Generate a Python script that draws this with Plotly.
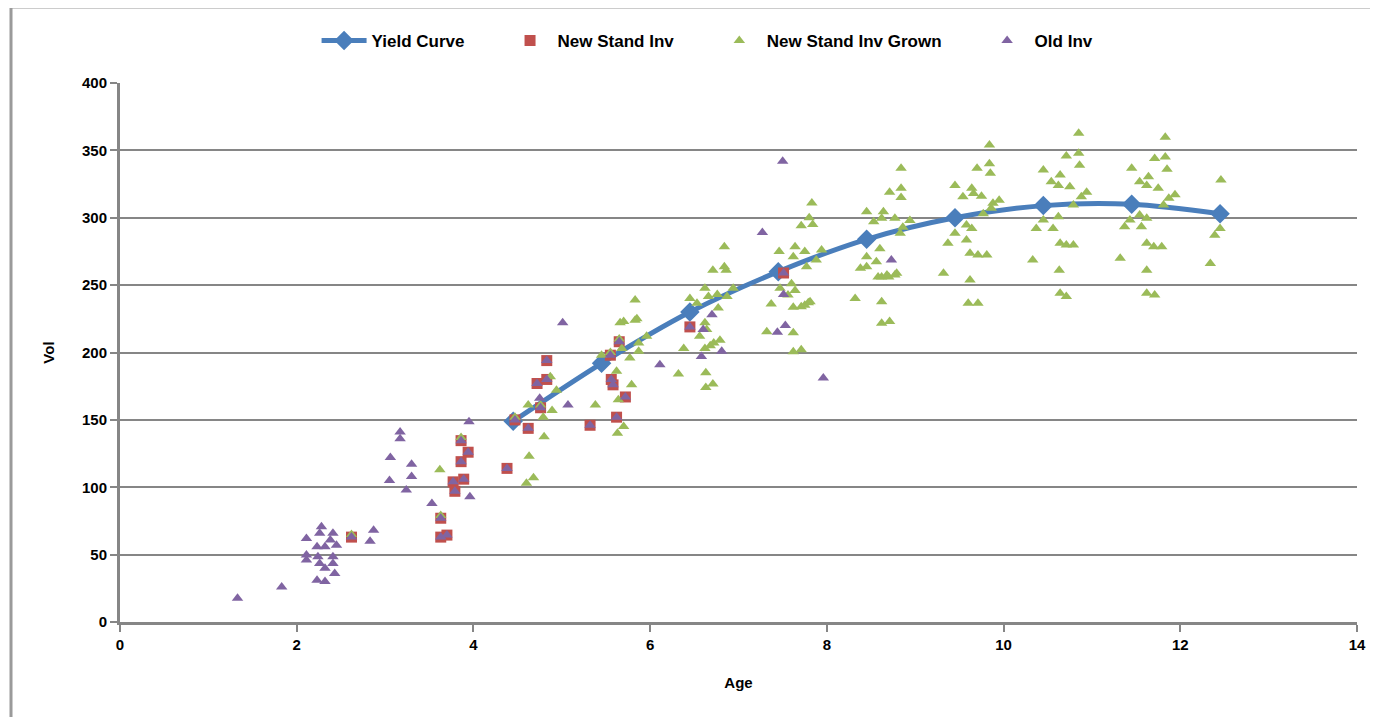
import plotly.graph_objects as go

# ---------------- data ----------------
yield_age = [4.45, 5.45, 6.45, 7.45, 8.45, 9.45, 10.45, 11.45, 12.45]
yield_vol = [149, 192, 230, 260, 284, 300, 309, 310, 303]

new_age = [2.62, 3.63, 3.63, 3.70, 3.77, 3.79, 3.89, 3.86, 3.94, 3.86, 4.38, 4.47, 4.62,
           4.72, 4.83, 4.76, 4.83, 5.32, 5.62, 5.72, 5.56, 5.58, 5.55, 5.65, 6.45, 7.51]
new_vol = [63, 77, 63, 64.5, 104, 97, 106, 119, 126, 134.6, 114, 150, 143.7,
           177, 180, 159, 194, 146, 152, 167, 180, 176, 198, 208, 219, 259]

grown_age = [3.62, 4.60, 4.68, 4.63, 4.80, 4.62, 4.87, 4.94, 4.89, 4.79, 5.38, 5.45, 5.62, 5.66,
             5.83, 5.77, 5.79, 5.70, 5.63, 5.64, 5.68, 5.87, 5.87, 5.96, 5.83, 5.85, 5.70,
             6.32, 6.38, 6.45, 6.53, 6.56, 6.62, 6.62, 6.62, 6.63, 6.63, 6.64, 6.66, 6.68,
             6.71, 6.72, 6.76, 6.77, 6.79, 6.84, 6.71, 6.84, 6.86, 6.87, 6.94,
             7.32, 7.37, 7.46, 7.47, 7.56, 7.60, 7.62, 7.62, 7.62, 7.62, 7.64, 7.64, 7.71,
             7.71, 7.71, 7.75, 7.77, 7.79, 7.84, 7.88, 7.94, 7.83, 7.80, 7.75, 7.81,
             8.32, 8.38, 8.45, 8.45, 8.53, 8.56, 8.60, 8.62, 8.62, 8.62, 8.62, 8.64, 8.70,
             8.71, 8.71, 8.77, 8.77, 8.83, 8.84, 8.84, 8.84, 8.86, 8.94, 8.45, 8.58, 8.68, 8.79,
             9.32, 9.37, 9.45, 9.45, 9.54, 9.58, 9.58, 9.60, 9.62, 9.62, 9.64, 9.64, 9.66,
             9.70, 9.71, 9.71, 9.75, 9.77, 9.81, 9.84, 9.84, 9.85, 9.86, 9.88, 9.95,
             10.33, 10.37, 10.45, 10.45, 10.54, 10.56, 10.62, 10.62, 10.63, 10.64, 10.64, 10.64,
             10.71, 10.71, 10.71, 10.75, 10.79, 10.79, 10.85, 10.85, 10.86, 10.88, 10.94,
             11.32, 11.37, 11.43, 11.45, 11.54, 11.54, 11.56, 11.62, 11.62, 11.62, 11.62, 11.62,
             11.64, 11.70, 11.71, 11.71, 11.75, 11.79, 11.81, 11.83, 11.83, 11.85, 11.87, 11.94,
             12.34, 12.39, 12.45, 12.46,
             2.62, 3.63, 3.86, 4.47, 4.76, 5.65, 5.55]
grown_vol = [113, 103, 107, 123, 137.5, 161, 182, 172, 157, 152, 161, 198, 186, 222,
             224, 196, 176, 145, 140, 165, 203, 207, 201, 212, 239, 225, 223,
             184, 203, 240, 236.5, 212, 247.6, 222, 203, 185, 174, 217, 241.5, 205,
             176.6, 207, 243, 233, 209, 278.5, 261, 263.7, 261, 241.5, 247.6,
             215.4, 236, 275, 247.6, 242.7, 251, 271, 233.5, 214.7, 200.6, 278.5, 246, 234,
             202, 294, 275, 263.7, 237, 295, 268.6, 276, 311, 300, 235, 237.7,
             240, 262.5, 271, 304.5, 297, 267.4, 277, 299.6, 256, 237.7, 221.7, 304.5, 256,
             223, 319, 299.6, 257.5, 288.5, 336.7, 321.8, 315, 293, 298, 263.7, 256, 257.5, 258.8,
             258.8, 281, 324, 288.5, 315.6, 294.6, 283.5, 236.5, 273.6, 253.8, 321.8, 292, 318,
             336.7, 272.4, 236.5, 316, 303, 272.4, 354, 340, 333, 307, 310.7, 313,
             268.6, 292, 335.4, 298.3, 326.8, 292, 324, 300.8, 261, 331.7, 281, 244,
             345.8, 279.8, 241.5, 323, 309.5, 279.8, 362.7, 347.8, 339, 315.6, 319,
             270, 293.4, 298.3, 336.7, 326.8, 302, 293.4, 324, 299.6, 281, 261, 244,
             330.5, 278.5, 344, 242.7, 321.8, 278.5, 309.5, 359.7, 345, 336, 314.4, 317,
             266, 287, 292, 328,
             65, 79, 137, 152, 161, 210, 200]

old_age = [1.33, 1.83, 2.28, 2.11, 2.26, 2.41, 2.38, 2.45, 2.23, 2.32, 2.11, 2.11, 2.24, 2.41,
           2.26, 2.41, 2.32, 2.43, 2.23, 2.32,
           2.83, 2.87, 3.05, 3.06, 3.17, 3.17, 3.30, 3.30, 3.24, 3.53, 3.95, 3.96,
           5.01, 5.07, 4.75, 6.11, 6.58, 6.60, 6.70, 6.81, 7.27, 7.44, 7.53, 7.51, 7.50, 7.96, 8.73,
           2.62, 3.63, 3.63, 3.70, 3.77, 3.79, 3.89, 3.86, 3.94, 3.86, 4.38, 4.47, 4.62,
           4.72, 4.83, 4.76, 4.83, 5.32, 5.62, 5.72, 5.56, 5.58, 5.55, 5.65, 6.45, 7.51]
old_vol = [17.6, 26, 70.7, 62, 65.8, 65.8, 60.9, 57, 55.9, 55.9, 49.7, 46, 48.5, 48.5,
           43.5, 43.5, 39.8, 36, 31, 30,
           60, 68, 105, 122, 141, 136, 117, 108, 98, 88, 148.6, 93,
           222, 161, 166, 191, 197, 217, 228, 201, 289, 215, 220, 243, 342, 181, 268.6,
           63, 77, 63, 64.5, 104, 97, 106, 119, 126, 134.6, 114, 150, 143.7,
           177, 180, 159, 194, 146, 152, 167, 180, 176, 198, 208, 219, 259]

x_ticks = [0, 2, 4, 6, 8, 10, 12, 14]
y_ticks = [0, 50, 100, 150, 200, 250, 300, 350, 400]

# ---------------- figure ----------------
FONT = "Liberation Sans Narrow, Liberation Sans, Arial, sans-serif"
GRID = "#868686"
PAD = "\u00a0" * 7  # extra spacing between legend entries

fig = go.Figure()
fig.add_trace(go.Scatter(
    x=yield_age, y=yield_vol, name="Yield Curve" + PAD, mode="lines+markers",
    line=dict(color="#4a7ebb", width=5, shape="spline", smoothing=0.9),
    marker=dict(symbol="diamond", size=15, color="#4a7ebb")))
fig.add_trace(go.Scatter(
    x=new_age, y=new_vol, name="New Stand Inv" + PAD, mode="markers",
    marker=dict(symbol="square", size=11, color="#c0504d")))
fig.add_trace(go.Scatter(
    x=grown_age, y=grown_vol, name="New Stand Inv Grown" + PAD, mode="markers",
    marker=dict(symbol="triangle-up", size=10, color="#9bbb59")))
fig.add_trace(go.Scatter(
    x=old_age, y=old_vol, name="Old Inv", mode="markers",
    marker=dict(symbol="triangle-up", size=10, color="#8064a2")))

# page body has an 8px margin, so plot margins compensate for it
fig.update_layout(
    width=1378, height=717,
    margin=dict(l=112, r=29, t=75, b=103),
    paper_bgcolor="white", plot_bgcolor="white",
    font=dict(family=FONT, size=14, color="#000000", weight="bold"),
    showlegend=True,
    legend=dict(orientation="h", x=0.475, xanchor="center", y=1 + (83 - 41) / 539, yanchor="middle",
                font=dict(family=FONT, size=17, weight="bold"), itemwidth=45,
                traceorder="normal"),
    xaxis=dict(range=[0, 14], tickvals=x_ticks, ticktext=[str(v) for v in x_ticks],
               showgrid=False, zeroline=False, showline=True, linecolor=GRID, linewidth=3,
               ticks="outside", ticklen=7, tickwidth=2, tickcolor=GRID,
               title=dict(text="Age", font=dict(size=15, weight="bold"), standoff=26),
               tickfont=dict(size=15, weight="bold")),
    yaxis=dict(range=[0, 400], tickvals=y_ticks, ticktext=[str(v) for v in y_ticks],
               showgrid=True, gridcolor=GRID, gridwidth=2, zeroline=False,
               showline=True, linecolor=GRID, linewidth=3,
               ticks="outside", ticklen=7, tickwidth=2, tickcolor=GRID,
               title=dict(text="Vol", font=dict(size=15, weight="bold"), standoff=24),
               tickfont=dict(size=15, weight="bold")),
)

# outer chart frame
fig.add_shape(type="rect", xref="paper", yref="paper",
              x0=(3 - 112) / 1237, x1=1.2, y0=-0.4, y1=1 + (75 - (-1)) / 539,
              line=dict(color="#9a9a9a", width=3), fillcolor="rgba(0,0,0,0)", layer="below")

fig.write_html("out.html")
